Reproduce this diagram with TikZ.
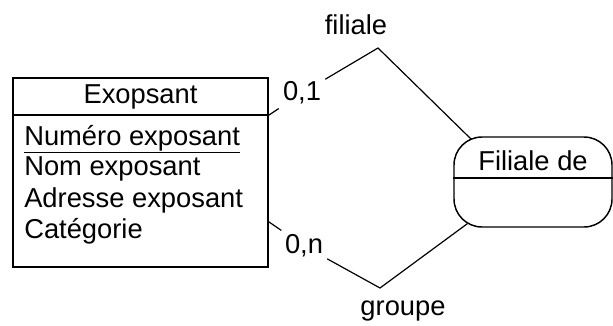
\documentclass[tikz,border=0pt]{standalone}
\usepackage{fontspec}
\setmainfont{Liberation Sans}
\usetikzlibrary{calc}

\tikzset{
  entity/.style={draw, line width=1.3pt, minimum width=191.25pt, minimum height=141.75pt, inner sep=0pt},
  relation/.style={draw, line width=1.1pt, rounded corners=21pt, minimum width=118.5pt, minimum height=67.5pt, inner sep=0pt},
  card/.style={inner sep=3pt},
  attr/.style={anchor=base west, inner sep=0pt},
  link/.style={line width=0.9pt},
}

\begin{document}
\begin{tikzpicture}[x=0.75pt, y=-0.75pt, font=\fontsize{20.5}{24}\selectfont]
    \useasboundingbox (0,0) rectangle (613,325);

    % Entity box
    \node[entity] (expo) at (140.5,172.5) {};
    \draw[line width=1.3pt] ($(expo.north west)+(0,38)$) -- ($(expo.north east)+(0,38)$);
    \node (title) at (140.5,97) {Exopsant};

    % Attributes
    \node[attr] (num) at (24,145) {\underline{Numéro exposant}};
    \node[attr] (nom) at (24,175) {Nom exposant};
    \node[attr] (adr) at (24,207) {Adresse exposant};
    \node[attr] (cat) at (24,238) {Catégorie};

    % Association
    \node[relation] (rel) at (533,182) {};
    \draw[line width=1.1pt] ($(rel.west)+(0,-4)$) -- ($(rel.east)+(0,-4)$);
    \node (relname) at (533,161) {Filiale de};

    % Cardinalities and roles
    \node[card] (c1) at (302,93) {0,1};
    \node[card] (cn) at (304,246) {0,n};
    \node (filiale) at (356,25) {filiale};
    \node (groupe) at (403,311) {groupe};

    % Connectors
    \coordinate (topfoot) at ($(expo.north east)+(0,38)$);
    \coordinate (botfoot) at ($(expo.south east)+(0,-46)$);
    \coordinate (peak1) at (378,48);
    \coordinate (peak2) at (380,288);
    \coordinate (relin1) at ($(rel.north west)+(18,3)$);
    \coordinate (relin2) at ($(rel.south west)+(14,-4)$);
    \draw[link] (topfoot) -- (c1) -- (peak1) -- (relin1);
    \draw[link] (botfoot) -- (cn) -- (peak2) -- (relin2);
\end{tikzpicture}
\end{document}
